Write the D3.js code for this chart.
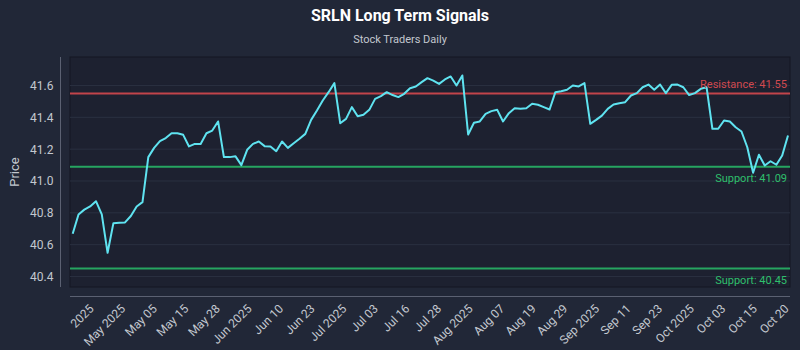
<!DOCTYPE html>
<html>
<head>
<meta charset="utf-8">
<script src="https://cdn.jsdelivr.net/npm/d3@7"></script>
<style>
  html, body { margin: 0; padding: 0; background: #212737; }
  svg { display: block; font-family: Roboto, "Noto Sans", sans-serif; }
</style>
</head>
<body>
<svg id="chart" width="800" height="350"></svg>
<script>
// Daily closing prices, oldest first
const prices = [
  40.668, 40.79, 40.82, 40.84, 40.873, 40.79, 40.549, 40.735, 40.738, 40.74,
  40.78, 40.84, 40.867, 41.15, 41.208, 41.25, 41.27, 41.30, 41.30, 41.29,
  41.217, 41.233, 41.233, 41.30, 41.317, 41.374, 41.15, 41.15, 41.155, 41.10,
  41.196, 41.233, 41.248, 41.219, 41.217, 41.187, 41.248, 41.208, 41.237, 41.265,
  41.296, 41.384, 41.443, 41.506, 41.558, 41.615, 41.363, 41.39, 41.464, 41.407,
  41.416, 41.447, 41.516, 41.533, 41.558, 41.54, 41.527, 41.548, 41.583, 41.594,
  41.621, 41.646, 41.631, 41.61, 41.638, 41.657, 41.60, 41.663, 41.292, 41.366,
  41.374, 41.422, 41.439, 41.447, 41.374, 41.426, 41.457, 41.454, 41.457, 41.485,
  41.479, 41.464, 41.449, 41.558, 41.564, 41.573, 41.60, 41.594, 41.615, 41.359,
  41.384, 41.411, 41.453, 41.481, 41.489, 41.495, 41.537, 41.552, 41.589, 41.606,
  41.573, 41.606, 41.552, 41.604, 41.606, 41.589, 41.54, 41.552, 41.579, 41.589,
  41.328, 41.328, 41.38, 41.374, 41.338, 41.311, 41.212, 41.052, 41.165, 41.097,
  41.124, 41.102, 41.16, 41.286
];

// Date labels along the bottom axis
const dateLabels = [
  "2025", "May 2025", "May 05", "May 15", "May 28", "Jun 2025", "Jun 10", "Jun 23",
  "Jul 2025", "Jul 03", "Jul 16", "Jul 28", "Aug 2025", "Aug 07", "Aug 19", "Aug 29",
  "Sep 2025", "Sep 11", "Sep 23", "Oct 2025", "Oct 03", "Oct 15", "Oct 20"
];

// Price levels
const resistanceLevels = [41.55];
const supportLevels = [41.09, 40.45];

// Y axis ticks
const priceTicks = [40.4, 40.6, 40.8, 41.0, 41.2, 41.4, 41.6];

const W = 800, H = 350;
const plot = { left: 70, right: 790, top: 57, bottom: 287 };

const svg = d3.select("#chart");

// Background
svg.append("rect").attr("width", W).attr("height", H).attr("fill", "#212737");
svg.append("rect")
  .attr("x", plot.left).attr("y", plot.top)
  .attr("width", plot.right - plot.left).attr("height", plot.bottom - plot.top)
  .attr("fill", "#1d2130").attr("stroke", "#141722").attr("stroke-width", 1);

// Scales
const allVals = prices.concat(resistanceLevels, supportLevels);
const lo = d3.min(allVals), hi = d3.max(allVals), pad = 0.116;
const y = d3.scaleLinear().domain([lo - pad, hi + pad]).range([plot.bottom, plot.top]);
const x = d3.scaleLinear().domain([0, prices.length - 1]).range([plot.left + 2.7, plot.right - 2]);
const xLab = d3.scalePoint().domain(dateLabels).range([plot.left + 21, plot.right - 4]);

// Grid
svg.append("g").selectAll("line").data(priceTicks).join("line")
  .attr("x1", plot.left).attr("x2", plot.right)
  .attr("y1", d => y(d)).attr("y2", d => y(d))
  .attr("stroke", "#2a3040").attr("stroke-width", 1);

// Y axis (offset spine)
const yAxis = svg.append("g").attr("transform", `translate(${plot.left - 9.5},0)`)
  .call(d3.axisLeft(y).tickValues(priceTicks).tickFormat(d3.format(".1f")).tickSize(0).tickPadding(7));
yAxis.select(".domain").attr("stroke", "#5b6172").attr("d", `M0,${plot.top}V${plot.bottom}`);
yAxis.selectAll("text").attr("fill", "#c3c7cf").attr("font-size", 12).style("font-family", "Roboto, sans-serif");

// X axis (offset spine)
const xAxis = svg.append("g").attr("transform", `translate(0,${plot.bottom + 9.5})`)
  .call(d3.axisBottom(xLab).tickSize(0).tickPadding(0));
xAxis.select(".domain").attr("stroke", "#5b6172").attr("d", `M${plot.left},0H${plot.right}`);
xAxis.selectAll(".tick text")
  .attr("fill", "#c3c7cf").attr("font-size", 12).style("font-family", "Roboto, sans-serif")
  .attr("text-anchor", "end")
  .attr("x", 0).attr("y", 0).attr("dy", "0.35em")
  .attr("transform", "translate(0,10) rotate(-45)");

// Level lines
svg.append("g").selectAll("line").data(resistanceLevels).join("line")
  .attr("x1", plot.left).attr("x2", plot.right)
  .attr("y1", d => y(d)).attr("y2", d => y(d))
  .attr("stroke", "#c2444a").attr("stroke-width", 2);
svg.append("g").selectAll("line").data(supportLevels).join("line")
  .attr("x1", plot.left).attr("x2", plot.right)
  .attr("y1", d => y(d)).attr("y2", d => y(d))
  .attr("stroke", "#26a560").attr("stroke-width", 2);

// Price line
svg.append("path").datum(prices)
  .attr("fill", "none").attr("stroke", "#5fe3f0").attr("stroke-width", 2)
  .attr("stroke-linejoin", "round")
  .attr("d", d3.line().x((d, i) => x(i)).y(d => y(d)));

// Level labels
svg.append("g").selectAll("text").data(resistanceLevels).join("text")
  .attr("x", plot.right - 3).attr("y", d => y(d) - 5)
  .attr("text-anchor", "end").attr("font-size", 11).attr("fill", "#d2494f")
  .text(d => `Resistance: ${d.toFixed(2)}`);
svg.append("g").selectAll("text").data(supportLevels).join("text")
  .attr("x", plot.right - 3).attr("y", d => y(d) + 15)
  .attr("text-anchor", "end").attr("font-size", 11).attr("fill", "#2fbf6c")
  .text(d => `Support: ${d.toFixed(2)}`);

// Titles
svg.append("text").attr("x", 400).attr("y", 21).attr("text-anchor", "middle")
  .attr("font-size", 16).attr("font-weight", "bold").attr("fill", "#ffffff")
  .text("SRLN Long Term Signals");
svg.append("text").attr("x", 400).attr("y", 43).attr("text-anchor", "middle")
  .attr("font-size", 11).attr("fill", "#c3c7cf")
  .text("Stock Traders Daily");

// Y axis title
svg.append("text")
  .attr("transform", `translate(19,${(plot.top + plot.bottom) / 2}) rotate(-90)`)
  .attr("text-anchor", "middle").attr("font-size", 13).attr("fill", "#c3c7cf")
  .text("Price");
</script>
</body>
</html>
